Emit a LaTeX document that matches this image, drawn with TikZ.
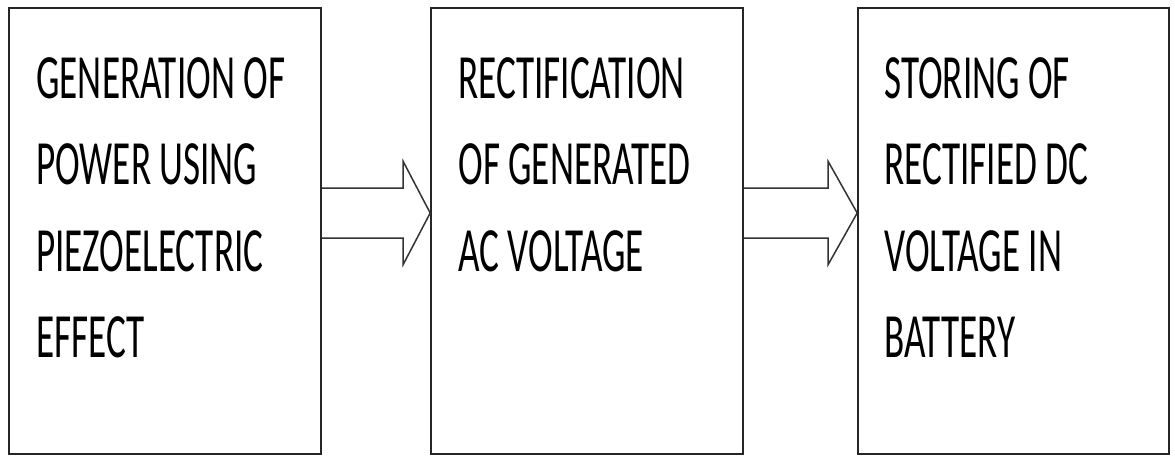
\documentclass[tikz,border=0pt]{standalone}
\usepackage{fontspec}
\usepackage{tikz}
\usetikzlibrary{positioning,calc}
\newfontfamily\boxfont[FakeStretch=0.59]{Carlito}

\tikzset{
  stage/.style={draw=black!85, line width=1.6pt, rectangle, minimum height=446pt, inner sep=0pt},
  stagetext/.style={anchor=north west, align=left, inner sep=0pt, font=\boxfont\fontsize{63}{86.5}\selectfont},
  blockarrow/.style={draw=black!80, line width=1.5pt, line join=miter}
}

\begin{document}
\begin{tikzpicture}[x=1pt, y=1pt]
    \useasboundingbox (0,0) rectangle (1175,456);
    % blocchi
    \node[stage, minimum width=312pt] (A) at (165, 225) {};
    \node[stage, minimum width=312pt] (B) at (587, 225) {};
    \node[stage, minimum width=311pt] (C) at (1013.5, 225) {};

    % testi
    \node[stagetext] (Atext) at ($(A.north west)+(28,-50)$) {GENERATION OF\\POWER USING\\PIEZOELECTRIC\\EFFECT};
    \node[stagetext] (Btext) at ($(B.north west)+(28,-50)$) {RECTIFICATION\\OF GENERATED\\AC VOLTAGE};
    \node[stagetext] (Ctext) at ($(C.north west)+(27,-50)$) {STORING OF\\RECTIFIED DC\\VOLTAGE IN\\BATTERY};

    % frecce vuote
    \draw[blockarrow] ($(A.east)+(0,43)$) -- ($(B.west)+(-27,43)$) -- ($(B.west)+(-27,69.5)$)
        -- ($(B.west)+(0,18)$) -- ($(B.west)+(-27,-33.5)$) -- ($(B.west)+(-27,-7)$) -- ($(A.east)+(0,-7)$);
    \draw[blockarrow] ($(B.east)+(0,43)$) -- ($(C.west)+(-29,43)$) -- ($(C.west)+(-29,69.5)$)
        -- ($(C.west)+(0,18)$) -- ($(C.west)+(-29,-33.5)$) -- ($(C.west)+(-29,-7)$) -- ($(B.east)+(0,-7)$);
\end{tikzpicture}
\end{document}
